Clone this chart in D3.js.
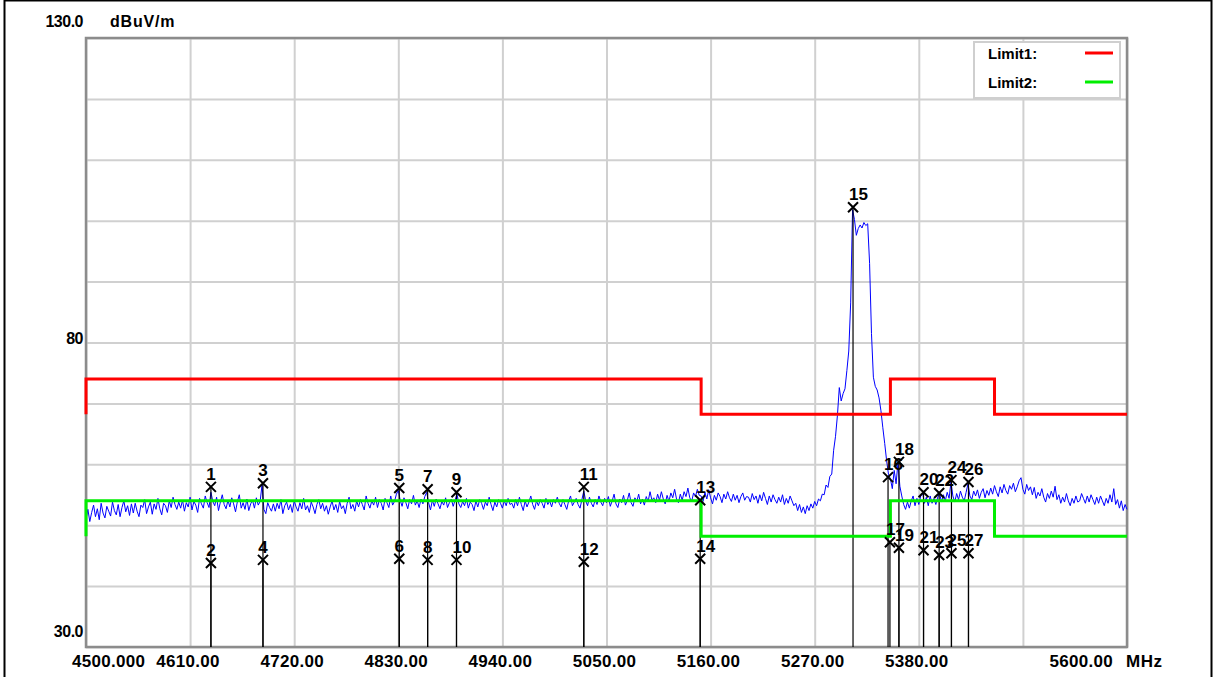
<!DOCTYPE html>
<html>
<head>
<meta charset="utf-8">
<script src="https://cdn.jsdelivr.net/npm/d3@7"></script>
<style>
body { margin: 0; background: #fff; }
text { font-family: "Liberation Sans", Arial, sans-serif; font-weight: bold; fill: #000; }
</style>
</head>
<body>
<svg id="chart" width="1216" height="677"></svg>
<script>
// axis values
const freq_min = 4500
const freq_max = 5600
const level_min = 30
const level_max = 130
const x_ticks = [4500, 4610, 4720, 4830, 4940, 5050, 5160, 5270, 5380, 5490, 5600]
const x_tick_labels = ['4500.000', '4610.00', '4720.00', '4830.00', '4940.00', '5050.00', '5160.00', '5270.00', '5380.00', '', '5600.00']
const y_grid = [30, 40, 50, 60, 70, 80, 90, 100, 110, 120, 130]
const y_labels = [[130, '130.0'], [80, '80'], [30, '30.0']]

// limit lines (MHz, dBuV/m)
const limit1_freq = [4500, 4500, 5150, 5150, 5350, 5350, 5460, 5460, 5600]
const limit1_level = [68.2, 74, 74, 68.2, 68.2, 74, 74, 68.2, 68.2]
const limit2_freq = [4500, 4500, 5150, 5150, 5350, 5350, 5460, 5460, 5600]
const limit2_level = [48.2, 54, 54, 48.2, 48.2, 54, 54, 48.2, 48.2]

// measured trace, one value every 2 MHz from 4500 MHz
const trace_start = 4500
const trace_step = 2
const trace_level = [
    51.0, 52.6, 50.6, 52.1, 53.3, 51.4, 52.7, 50.9, 53.6, 52.0, 51.2, 53.1, 52.3, 51.5, 53.8, 52.4, 51.7, 53.4, 51.4, 52.9, 54.0, 52.2, 53.2, 51.6, 53.5,
    52.0, 53.6, 52.3, 51.4, 53.3, 52.9, 54.2, 51.9, 53.0, 53.8, 51.8, 53.5, 52.6, 54.4, 52.7, 51.7, 53.6, 53.2, 52.1, 54.0, 52.9, 54.6, 53.4, 52.6, 53.8,
    52.8, 54.1, 52.3, 53.7, 53.0, 54.6, 52.5, 53.9, 53.3, 52.1, 54.4, 53.5, 52.8, 54.8, 53.7, 52.9, 55.4, 53.9, 53.2, 54.6, 52.4, 53.8, 55.0, 53.4, 52.7,
    54.1, 53.0, 54.5, 53.5, 52.2, 53.9, 55.0, 52.8, 53.7, 52.6, 54.3, 52.4, 53.5, 54.1, 52.8, 54.5, 53.3, 53.9, 56.6, 52.6, 51.9, 53.7, 52.9, 52.3, 53.5,
    52.3, 53.6, 52.7, 54.2, 51.9, 53.2, 53.8, 52.5, 53.4, 52.1, 54.0, 53.0, 52.3, 53.7, 52.7, 54.4, 52.5, 53.2, 52.1, 53.8, 53.0, 51.9, 53.4, 54.2, 52.7,
    53.6, 52.3, 53.2, 51.8, 53.0, 54.0, 52.5, 53.4, 52.1, 53.9, 52.7, 53.2, 51.9, 53.6, 54.6, 52.7, 53.4, 52.3, 54.0, 53.0, 54.2, 53.4, 52.5, 54.8, 53.6,
    52.8, 54.0, 53.3, 54.6, 52.9, 54.2, 53.6, 52.5, 54.4, 53.7, 52.9, 54.8, 53.3, 53.9, 55.1, 55.7, 54.1, 53.1, 54.5, 53.7, 52.7, 54.2, 53.5, 54.9, 53.3,
    54.0, 52.9, 54.3, 53.5, 54.7, 55.4, 53.7, 52.5, 54.1, 53.1, 54.3, 53.5, 52.7, 53.9, 53.3, 54.5, 52.9, 53.7, 54.3, 53.1, 54.1, 55.1, 53.5, 52.9, 53.9,
    53.2, 54.4, 52.8, 53.8, 53.4, 52.4, 54.0, 53.0, 54.2, 53.6, 52.6, 53.8, 53.2, 54.6, 53.4, 52.4, 53.8, 53.0, 54.2, 53.6, 52.8, 54.0, 53.2, 54.4, 53.4,
    53.6, 52.8, 54.2, 53.2, 54.6, 53.4, 52.4, 54.0, 53.0, 53.8, 54.8, 53.4, 52.6, 54.0, 53.2, 54.2, 53.6, 52.8, 54.4, 53.4, 54.0, 53.0, 54.2, 53.6, 54.6,
    53.6, 53.0, 54.2, 53.4, 52.6, 54.0, 54.8, 53.2, 53.8, 54.4, 53.4, 52.8, 54.2, 55.6, 54.0, 53.2, 54.6, 53.6, 53.0, 54.2, 53.4, 54.8, 53.8, 53.2, 54.4,
    53.7, 54.7, 53.1, 54.0, 55.1, 53.5, 52.9, 54.3, 53.7, 54.9, 53.3, 54.1, 55.3, 53.7, 53.1, 54.5, 53.9, 55.1, 53.5, 54.3, 53.3, 54.7, 53.9, 55.5, 54.1,
    54.5, 53.7, 55.1, 54.1, 55.5, 54.3, 53.5, 54.9, 53.9, 55.3, 54.5, 55.9, 54.3, 53.7, 55.1, 54.1, 55.5, 54.7, 56.1, 54.5, 53.9, 55.3, 54.7, 55.9, 54.9,
    54.8, 53.9, 55.4, 54.3, 55.8, 54.5, 53.5, 54.9, 54.1, 55.3, 54.7, 53.7, 55.1, 54.3, 55.5, 54.5, 53.9, 55.1, 54.1, 54.9, 53.7, 54.7, 55.3, 54.1, 54.7,
    54.6, 53.8, 55.2, 54.2, 54.8, 53.6, 55.0, 54.0, 55.4, 54.4, 53.4, 54.8, 53.8, 55.0, 54.2, 53.6, 54.6, 53.8, 55.0, 53.4, 54.4, 53.6, 54.8, 54.0, 53.2,
    53.6, 52.4, 53.4, 52.1, 53.0, 51.9, 53.2, 52.4, 53.5, 52.8, 53.9, 53.2, 54.3, 54.0, 55.1, 55.0, 56.6, 56.2, 58.0, 58.4, 62.3, 64.6, 68.0, 72.6, 70.4,
    71.6, 72.4, 75.4, 78.6, 86.5, 101.8, 100.2, 97.6, 98.7, 99.3, 98.8, 99.7, 99.2, 99.5, 93.0, 81.5, 74.3, 72.8, 72.2, 70.9, 68.8, 66.0, 63.4, 60.6, 58.3,
    57.6, 56.0, 59.0, 56.8, 60.3, 56.4, 54.8, 53.4, 52.6, 53.8, 52.8, 54.0, 54.8, 53.2, 54.4, 53.4, 54.8, 55.3, 53.6, 54.6, 53.2, 54.8, 53.6, 54.4, 53.4,
    54.6, 55.2, 53.8, 55.0, 54.0, 55.4, 54.4, 57.1, 54.8, 53.8, 55.2, 54.2, 55.6, 54.6, 54.0, 55.4, 56.8, 54.8, 54.2, 55.6, 54.8, 55.8, 54.4, 55.4, 56.0,
    54.5, 55.7, 54.9, 56.1, 55.1, 56.5, 55.5, 54.7, 56.3, 55.3, 56.7, 55.7, 55.1, 56.5, 55.9, 56.9, 55.5, 56.3, 57.3, 57.8, 55.9, 55.1, 56.7, 55.7, 56.3,
    55.0, 56.2, 54.4, 55.4, 54.8, 56.0, 54.6, 53.8, 55.2, 54.4, 55.6, 54.6, 56.4, 54.2, 55.0, 53.6, 54.6, 53.8, 55.2, 54.0, 53.2, 54.4, 53.6, 54.8, 53.8,
    54.0, 55.2, 54.4, 53.6, 54.8, 53.8, 55.0, 54.2, 53.4, 54.6, 53.6, 54.8, 54.0, 53.2, 54.4, 53.6, 55.0, 53.8, 56.0, 53.4, 54.2, 52.8, 54.0, 52.4, 53.4,
    52.6
]

// markers
const marker_no = [1, 2, 3, 4, 5, 6, 7, 8, 9, 10, 11, 12, 13, 14, 15, 16, 17, 18, 19, 20, 21, 22, 23, 24, 25, 26, 27]
const marker_freq = [4632, 4632, 4687, 4687, 4831, 4831, 4861, 4861, 4891.5, 4891.5, 5026, 5026, 5149, 5149, 5310.5,
                     5347.5, 5349.5, 5359, 5359, 5385, 5385, 5401.5, 5401.5, 5414.5, 5414.5, 5432.5, 5432.5]
const marker_level = [56.3, 43.8, 56.9, 44.3, 56.1, 44.5, 55.9, 44.3, 55.4, 44.3, 56.3, 44.0, 54.1, 44.5, 102.2,
                      57.9, 47.2, 60.4, 46.3, 55.4, 45.9, 55.3, 45.1, 57.4, 45.4, 57.1, 45.4]

const legend_names = ['Limit1:', 'Limit2:']
const legend_colors = ['#ff0000', '#00ee00']

// layout
const plot = {left: 86, right: 1127, top: 38, bottom: 647}
const svg = d3.select('#chart')

const x = d3.scaleLinear().domain([freq_min, freq_max]).range([plot.left, plot.right])
const y = d3.scaleLinear().domain([level_min, level_max]).range([plot.bottom, plot.top])

// outer frame
svg.append('rect')
    .attr('x', 4.5).attr('y', 0.5)
    .attr('width', 1207).attr('height', 690)
    .attr('fill', 'none').attr('stroke', '#000').attr('stroke-width', 2)

// grid
svg.append('g')
    .attr('transform', `translate(0, ${plot.bottom})`)
    .call(d3.axisBottom(x).tickValues(x_ticks).tickSize(-(plot.bottom - plot.top)).tickFormat(''))
    .call(g => g.select('.domain').remove())
    .selectAll('line').attr('stroke', '#d0d0d0').attr('stroke-width', 2)

svg.append('g')
    .attr('transform', `translate(${plot.left}, 0)`)
    .call(d3.axisLeft(y).tickValues(y_grid).tickSize(-(plot.right - plot.left)).tickFormat(''))
    .call(g => g.select('.domain').remove())
    .selectAll('line').attr('stroke', '#d0d0d0').attr('stroke-width', 2)

svg.append('rect')
    .attr('x', plot.left).attr('y', plot.top)
    .attr('width', plot.right - plot.left).attr('height', plot.bottom - plot.top)
    .attr('fill', 'none').attr('stroke', '#8c8c8c').attr('stroke-width', 2.5)

// trace
const trace = trace_level.map((v, i) => ({f: trace_start + i * trace_step, v: v}))
svg.append('path')
    .datum(trace)
    .attr('d', d3.line().x(d => x(d.f)).y(d => y(d.v)))
    .attr('fill', 'none')
    .attr('stroke', '#0000ff')
    .attr('stroke-width', 1)

// marker stems
svg.selectAll('line.stem')
    .data(marker_freq)
    .join('line')
        .attr('class', 'stem')
        .attr('x1', (d, i) => x(d)).attr('x2', (d, i) => x(d))
        .attr('y1', (d, i) => y(marker_level[i])).attr('y2', plot.bottom)
        .attr('stroke', '#000').attr('stroke-width', 1.2)

// limit lines
const limit_line = d3.line().x(d => x(d[0])).y(d => y(d[1]))
svg.append('path')
    .attr('d', limit_line(d3.zip(limit1_freq, limit1_level)))
    .attr('fill', 'none').attr('stroke', '#ff0000').attr('stroke-width', 3)
svg.append('path')
    .attr('d', limit_line(d3.zip(limit2_freq, limit2_level)))
    .attr('fill', 'none').attr('stroke', '#00ee00').attr('stroke-width', 3)

// marker crosses and numbers
const mk = svg.selectAll('g.marker')
    .data(marker_no)
    .join('g')
        .attr('class', 'marker')
        .attr('transform', (d, i) => `translate(${x(marker_freq[i])}, ${y(marker_level[i])})`)
mk.append('path')
    .attr('d', 'M-5,-5L5,5M-5,5L5,-5')
    .attr('stroke', '#000').attr('stroke-width', 2)
mk.append('text')
    .attr('x', d => d < 10 ? 0 : -4)
    .attr('y', -7)
    .attr('text-anchor', d => d < 10 ? 'middle' : 'start')
    .style('font-size', '17px')
    .text(d => d)

// axis labels
svg.selectAll('text.xlab')
    .data(x_ticks)
    .join('text')
        .attr('class', 'xlab')
        .attr('x', (d, i) => i == 0 ? x(d) - 14 : (i == x_ticks.length - 1 ? x(d) - 14 : x(d) - 2))
        .attr('y', 667)
        .attr('text-anchor', (d, i) => i == 0 ? 'start' : (i == x_ticks.length - 1 ? 'end' : 'middle'))
        .style('font-size', '17px')
        .style('letter-spacing', '0.3px')
        .text((d, i) => x_tick_labels[i])
svg.append('text')
    .attr('x', x(freq_max) - 1).attr('y', 667)
    .style('font-size', '17px').style('letter-spacing', '0.5px')
    .text('MHz')

svg.selectAll('text.ylab')
    .data(y_labels)
    .join('text')
        .attr('class', 'ylab')
        .attr('x', 83)
        .attr('y', d => d[0] == level_max ? 27 : (d[0] == level_min ? y(d[0]) - 10 : y(d[0]) + 1))
        .attr('text-anchor', 'end')
        .style('font-size', '16px')
        .style('letter-spacing', '-0.5px')
        .text(d => d[1])
svg.append('text')
    .attr('x', 110).attr('y', 27)
    .style('font-size', '16px').style('letter-spacing', '0.8px')
    .text('dBuV/m')

// legend
const lg = svg.append('g').attr('transform', 'translate(974, 42)')
lg.append('rect')
    .attr('width', 146).attr('height', 56)
    .attr('fill', '#fff').attr('stroke', '#cfcfcf').attr('stroke-width', 2)
legend_names.forEach((name, i) => {
    lg.append('text')
        .attr('x', 14).attr('y', 17 + i * 29)
        .style('font-size', '15px')
        .text(name)
    lg.append('line')
        .attr('x1', 111).attr('x2', 139)
        .attr('y1', 11 + i * 29).attr('y2', 11 + i * 29)
        .attr('stroke', legend_colors[i]).attr('stroke-width', 3)
})
</script>
</body>
</html>
